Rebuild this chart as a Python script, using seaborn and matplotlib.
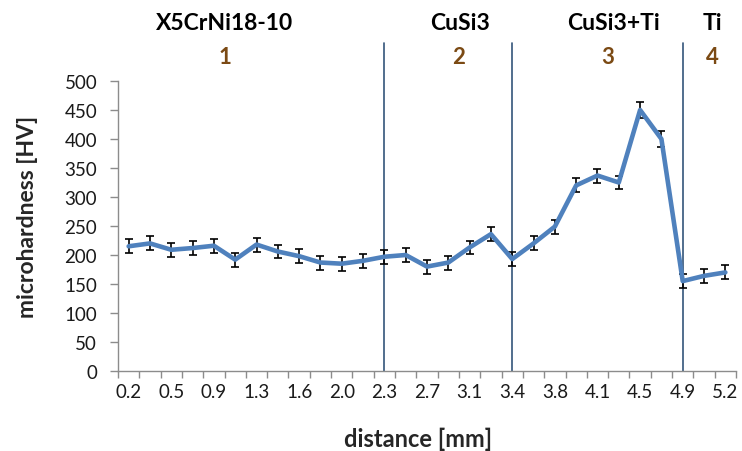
import numpy as np
import pandas as pd
import matplotlib
matplotlib.use("Agg")
import matplotlib.pyplot as plt
import matplotlib.transforms as mtransforms
from matplotlib.ticker import FixedLocator, NullFormatter
import seaborn as sns

# tick labels shown on the x axis (every second measurement point)
x_labels = ["0.2", "0.5", "0.9", "1.3", "1.6", "2.0", "2.3", "2.7",
            "3.1", "3.4", "3.8", "4.1", "4.5", "4.9", "5.2"]

# microhardness at each of the 29 measurement points
hardness = [215, 220, 209, 212, 216, 192, 218, 206, 198, 187,
            185, 190, 197, 200, 180, 187, 213, 236, 193, 220,
            249, 320, 337, 325, 450, 400, 155, 164, 170]
hardness_err = [12, 12, 12, 12, 12, 12, 12, 12, 12, 12,
                12, 12, 12, 12, 12, 12, 12, 12, 12, 12,
                12, 12, 12, 12, 13, 13, 12, 12, 12]

# zone boundaries (measurement point index) and zone labels
zone_bounds = [12, 18, 26]
zone_names = ["X5CrNi18-10", "CuSi3", "CuSi3+Ti", "Ti"]
zone_numbers = ["1", "2", "3", "4"]

df = pd.DataFrame({
    "point": np.arange(len(hardness)),
    "hv": hardness,
    "err": hardness_err,
})

sns.set_theme(style="white")
plt.rcParams["font.family"] = ["Lato", "DejaVu Sans"]

W, H = 742, 452
fig = plt.figure(figsize=(W / 100, H / 100), dpi=100)
ax = fig.add_axes([118 / W, 80 / H, 618 / W, 290 / H])

ax.errorbar(df["point"], df["hv"], yerr=df["err"], fmt="none",
            ecolor="black", elinewidth=1.2, capsize=3.2, capthick=1.2,
            zorder=3)
sns.lineplot(data=df, x="point", y="hv", ax=ax, color="#4f81bd",
             linewidth=3.3, zorder=4)

for b in zone_bounds:
    ax.axvline(b, ymin=0, ymax=(370 - 42) / 290, color="#34557a",
               linewidth=1.2, clip_on=False, zorder=2)

ax.set_xlim(-0.5, len(hardness) - 0.5)
ax.set_ylim(0, 500)
ax.set_yticks(np.arange(0, 501, 50))

ax.set_xticks(np.arange(0, len(hardness), 2))
ax.set_xticklabels(x_labels)
ax.xaxis.set_minor_locator(FixedLocator(np.arange(-0.5, len(hardness), 1)))
ax.xaxis.set_minor_formatter(NullFormatter())
ax.tick_params(axis="x", which="major", length=0, pad=9,
               labelsize=13.5, labelcolor="#1a1a1a")
ax.tick_params(axis="x", which="minor", length=5, width=1,
               color="#8c8c8c", direction="out", bottom=True)
ax.tick_params(axis="y", which="major", length=6, width=1,
               color="#8c8c8c", direction="out", left=True,
               labelsize=13.5, labelcolor="#1a1a1a", pad=9)

for side in ["top", "right"]:
    ax.spines[side].set_visible(False)
for side in ["left", "bottom"]:
    ax.spines[side].set_color("#8c8c8c")
    ax.spines[side].set_linewidth(1)

ax.set_xlabel("distance [mm]", fontsize=17, fontweight="bold")
ax.xaxis.label.set_va("center")
ax.xaxis.set_label_coords((418 - 118) / 618, (370 - 437) / 290)

ax.set_ylabel("microhardness [HV]", fontsize=16.5, fontweight="bold")
ax.yaxis.label.set_va("center")
ax.yaxis.set_label_coords((28 - 118) / 618, (370 - 215) / 290)

trans = mtransforms.blended_transform_factory(ax.transData, fig.transFigure)
name_x = [4.5, 15.55, 22.75, 27.4]
num_x = [4.5, 15.5, 22.5, 27.4]
for nx, mx, name, num in zip(name_x, num_x, zone_names, zone_numbers):
    ax.text(nx, 1 - 24 / H, name, transform=trans, ha="center",
            va="center", fontsize=16.5, fontweight="bold", color="black")
    ax.text(mx, 1 - 57 / H, num, transform=trans, ha="center",
            va="center", fontsize=16, fontweight="bold", color="#7b4a14")

fig.savefig("out.png", dpi=100)
